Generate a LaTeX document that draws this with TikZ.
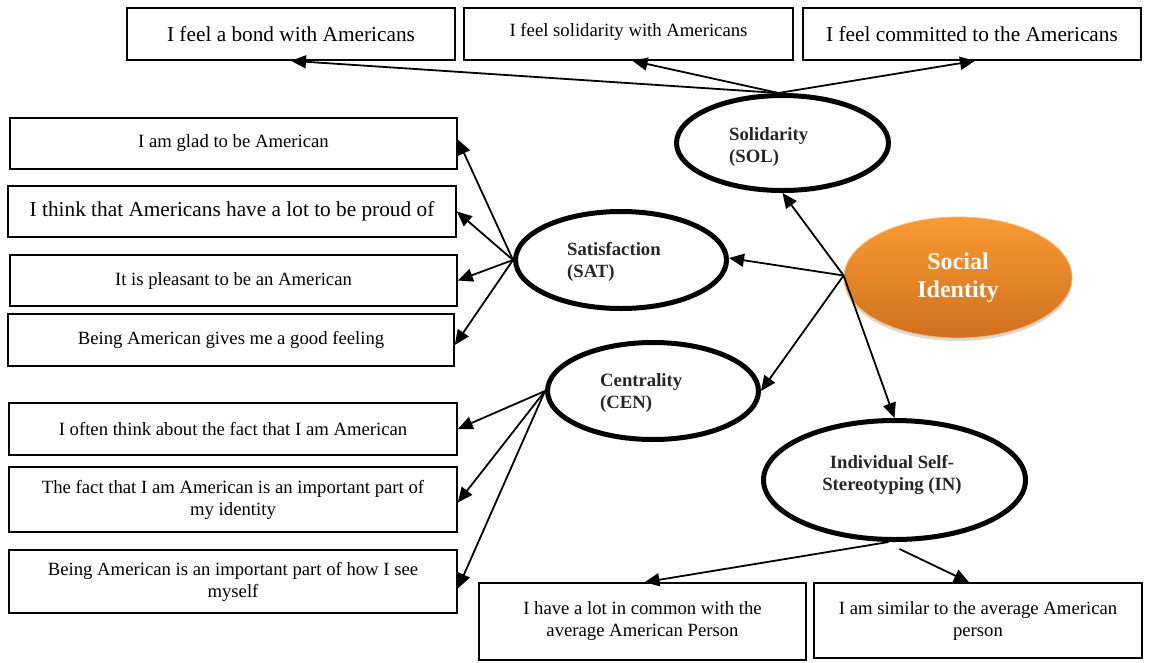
\documentclass[tikz,border=0pt]{standalone}
\usepackage{fontspec}
\setmainfont{Liberation Serif}
\usetikzlibrary{arrows.meta,shapes.geometric,shadows}
\definecolor{orangetop}{HTML}{F99A33}
\definecolor{orangebot}{HTML}{D0701F}
\begin{document}
\begin{tikzpicture}[x=1pt,y=-1pt,
  item/.style={draw, line width=1.6pt, inner sep=2pt, align=center,
    font=\fontsize{18.7}{22}\selectfont},
  itembig/.style={item, font=\fontsize{21.3}{25}\selectfont},
  factor/.style={ellipse, draw, line width=5pt, inner sep=0pt},
  factorlabel/.style={inner sep=0pt, align=left, text=black!85,
    font=\fontsize{18.7}{22}\selectfont\bfseries},
  link/.style={-{Triangle[length=15pt,width=13pt]}, line width=1.8pt},
]
\useasboundingbox (0,0) rectangle (1151,662);

% indicator boxes, top row
\node[itembig, minimum width=328, minimum height=52] (bond) at (291,34) {I feel a bond with Americans};
\node[item, minimum width=329, minimum height=52] (solid) at (628.5,34) {\raisebox{8pt}{I feel solidarity with Americans}};
\node[itembig, minimum width=338, minimum height=52] (commit) at (972,34) {I feel committed to the Americans};

% indicator boxes, left column
\node[item, minimum width=447, minimum height=51] (glad) at (233.5,143.5) {\raisebox{5pt}{I am glad to be American}};
\node[itembig, minimum width=448, minimum height=51] (proud) at (232,211.5) {I think that Americans have a lot to be proud of};
\node[item, minimum width=447, minimum height=51] (pleasant) at (233.5,280.5) {It is pleasant to be an American};
\node[item, minimum width=446, minimum height=52] (good) at (231,340) {Being American gives me a good feeling};
\node[item, minimum width=448, minimum height=52] (often) at (233,429) {I often think about the fact that I am American};
\node[item, minimum width=448, minimum height=65] (fact) at (233,499.5) {The fact that I am American is an important part of\\my identity};
\node[item, minimum width=448, minimum height=63] (seeself) at (233,581.5) {Being American is an important part of how I see\\myself};

% indicator boxes, bottom row
\node[item, minimum width=327, minimum height=77] (common) at (642.5,621.5) {I have a lot in common with the\\average American Person};
\node[item, minimum width=328, minimum height=75] (similar) at (978,620.5) {I am similar to the average American\\person};

% latent factors
\node[factor, minimum width=212, minimum height=95] (sol) at (782.5,143) {};
\node[factorlabel, anchor=west] (sollbl) at (729,146.5) {Solidarity\\(SOL)};
\node[factor, minimum width=211, minimum height=97] (sat) at (621,260) {};
\node[factorlabel, anchor=west] (satlbl) at (567,261.5) {Satisfaction\\(SAT)};
\node[factor, minimum width=211, minimum height=97] (cen) at (653,391) {};
\node[factorlabel, anchor=west] (cenlbl) at (600,392.5) {Centrality\\(CEN)};
\node[factor, minimum width=262, minimum height=119] (ind) at (894.5,480) {};
\node[factorlabel, align=center] (indlbl) at (892,474.5) {Individual Self-\\Stereotyping (IN)};

% higher-order factor
\node[ellipse, minimum width=228, minimum height=121, inner sep=0pt,
  top color=orangetop, bottom color=orangebot, draw=orangetop!70!white, line width=0.8pt,
  drop shadow={shadow xshift=0pt, shadow yshift=-3pt, opacity=0.3},
  text=white, align=center, font=\fontsize{24}{28}\selectfont\bfseries] (soc) at (958,277.5) {Social\\Identity};

% loadings of the first-order factors
\draw[link] ([xshift=-4]sol.north) -- (bond.south);
\draw[link] ([xshift=-4]sol.north) -- ([xshift=4]solid.south);
\draw[link] ([xshift=-4]sol.north) -- ([xshift=3]commit.south);

\draw[link] (sat.west) -- ([yshift=4]glad.east);
\draw[link] (sat.west) -- (proud.east);
\draw[link] (sat.west) -- (pleasant.east);
\draw[link] (sat.west) -- ([yshift=-5]good.east);

\draw[link] (cen.west) -- (often.east);
\draw[link] (cen.west) -- ([yshift=-3]fact.east);
\draw[link] (cen.west) -- ([yshift=-7]seeself.east);

\draw[link] ([xshift=-6]ind.south) -- ([xshift=2]common.north);
\draw[link] ([shift={(5,7)}]ind.south) -- ([xshift=-9]similar.north);

% higher-order loadings
\draw[link] ([yshift=2]soc.west) -- (sol.south);
\draw[link] ([yshift=2]soc.west) -- ([yshift=2]sat.east);
\draw[link] ([yshift=2]soc.west) -- (cen.east);
\draw[link] ([yshift=2]soc.west) -- (ind.north);
\end{tikzpicture}
\end{document}
